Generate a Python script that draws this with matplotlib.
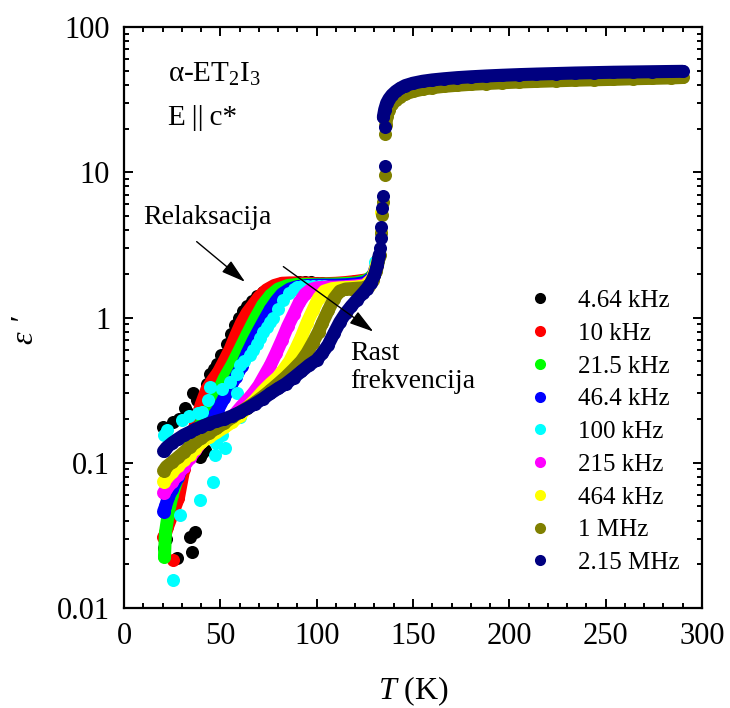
import numpy as np
import matplotlib
matplotlib.use("Agg")
import matplotlib.pyplot as plt
from matplotlib.ticker import MultipleLocator, LogLocator, FuncFormatter, NullFormatter
from matplotlib.lines import Line2D

plt.rcParams['font.family'] = ['Liberation Serif', 'DejaVu Serif']
plt.rcParams['mathtext.fontset'] = 'custom'
plt.rcParams['mathtext.rm'] = 'Liberation Serif'
plt.rcParams['mathtext.it'] = 'Liberation Serif:italic'

# frekvencije i boje
labels = ["4.64 kHz", "10 kHz", "21.5 kHz", "46.4 kHz", "100 kHz",
          "215 kHz", "464 kHz", "1 MHz", "2.15 MHz"]
colors = ["#000000", "#ff0000", "#00ff00", "#0000ff", "#00ffff",
          "#ff00ff", "#ffff00", "#808000", "#000080"]

# 4.64 kHz (sumovito, samo tocke)
T_black = [20.4, 21.0, 21.5, 22.0, 25.5, 27.5, 28.5, 31.7, 32.5, 34.2, 35.1, 36.0, 36.9,
           37.7, 39.4, 40.3, 42.0, 42.9, 44.6, 46.5, 48.1, 50.5, 53.3, 55.5, 57.6, 59.8,
           61.9, 64.0, 66.2, 68.9, 72.0, 75.8, 79.0, 82.0, 85.0, 88.0, 91.0, 94.0, 97.0,
           100.0, 103.0, 106.0, 109.0, 112.0, 115.0, 118.0, 121.0, 124.0, 127.0, 129.5, 131.5]
eps_black = [0.177, 0.026, 0.165, 0.030, 0.19, 0.022, 0.20, 0.237, 0.224, 0.031, 0.0244, 0.30, 0.0335,
             0.27, 0.11, 0.116, 0.122, 0.35, 0.41, 0.44, 0.48, 0.55, 0.66, 0.77, 0.89, 1.0,
             1.10, 1.2, 1.3, 1.41, 1.5, 1.58, 1.64, 1.68, 1.71, 1.73, 1.75, 1.76, 1.75,
             1.74, 1.73, 1.71, 1.70, 1.70, 1.71, 1.72, 1.74, 1.76, 1.8, 2.0, 2.5]

# 10 kHz
T_red = [21.0, 22.5, 28.2, 31.0, 34.0, 37.0, 40.0, 43.0, 46.0, 49.0, 52.0, 55.0, 58.0, 61.0,
         64.0, 67.0, 70.0, 74.0, 78.0, 82.0, 86.0, 90.0, 95.0, 100.0, 105.0, 110.0, 115.0,
         120.0, 124.0, 127.0, 130.0, 132.0]
eps_red = [0.031, 0.036, 0.057, 0.09, 0.13, 0.18, 0.25, 0.32, 0.37, 0.42, 0.5, 0.6, 0.75, 0.92,
           1.08, 1.22, 1.38, 1.55, 1.66, 1.72, 1.73, 1.73, 1.72, 1.71, 1.71, 1.72, 1.74,
           1.77, 1.8, 1.83, 2.0, 2.5]
T_red_pts = [20.4, 25.6]
eps_red_pts = [0.031, 0.0214]

# 21.5 kHz
T_green = [21.0, 21.5, 23.0, 25.0, 28.0, 32.0, 36.0, 40.0, 44.0, 48.0, 52.0, 56.0, 60.0, 64.0,
           68.0, 72.0, 76.0, 80.0, 85.0, 90.0, 100.0, 110.0, 120.0, 126.0, 130.0, 132.0]
eps_green = [0.0225, 0.033, 0.045, 0.06, 0.08, 0.11, 0.15, 0.185, 0.23, 0.29, 0.38, 0.47, 0.6, 0.77,
             0.98, 1.22, 1.42, 1.57, 1.66, 1.69, 1.69, 1.7, 1.73, 1.8, 2.0, 2.5]

# 46.4 kHz
T_blue = [20.5, 21.5, 23.0, 25.0, 28.0, 31.0, 34.0, 37.0, 40.0, 43.0, 46.0, 49.0, 52.0, 55.0,
          58.0, 61.0, 64.0, 67.0, 70.0, 73.0, 76.0, 79.0, 82.0, 86.0, 90.0, 95.0, 100.0,
          105.0, 110.0, 115.0, 120.0, 125.0, 129.0, 131.5]
eps_blue = [0.046, 0.05, 0.058, 0.066, 0.08, 0.097, 0.115, 0.135, 0.16, 0.18, 0.205, 0.235, 0.28, 0.33,
            0.39, 0.46, 0.57, 0.69, 0.82, 0.97, 1.14, 1.3, 1.45, 1.57, 1.63, 1.66, 1.67,
            1.67, 1.67, 1.68, 1.7, 1.74, 1.9, 2.4]

# 100 kHz (sumovito, samo tocke)
T_cyan = [20.5, 22.2, 25.6, 29.0, 30.0, 33.5, 38.4, 39.4, 40.3, 43.8, 44.6, 46.4, 47.2, 48.0,
          50.7, 50.7, 52.4, 55.0, 58.5, 58.5, 60.2, 60.2, 62.5, 65.4, 67.0, 69.0, 70.6, 72.3,
          74.0, 75.8, 77.5, 80.0, 82.7, 85.5, 88.0, 90.0, 92.2, 95.0, 98.3, 101.0, 104.0,
          107.0, 110.0, 113.0, 116.0, 119.0, 122.0, 125.0, 128.0, 130.5]
eps_cyan = [0.155, 0.168, 0.0156, 0.044, 0.197, 0.21, 0.22, 0.055, 0.224, 0.27, 0.33, 0.074, 0.113, 0.136,
            0.155, 0.32, 0.126, 0.36, 0.30, 0.41, 0.207, 0.47, 0.5, 0.55, 0.6, 0.66, 0.72, 0.79,
            0.86, 0.93, 1.0, 1.15, 1.32, 1.48, 1.57, 1.61, 1.64, 1.66, 1.66, 1.65, 1.64,
            1.63, 1.63, 1.63, 1.64, 1.65, 1.66, 1.68, 1.85, 2.4]

# 215 kHz
T_mag = [20.5, 22.0, 25.0, 28.0, 31.0, 34.0, 37.0, 40.0, 43.0, 46.0, 49.0, 52.0, 55.0, 58.0,
         61.0, 64.0, 67.0, 70.0, 73.0, 76.0, 79.0, 82.0, 85.0, 88.0, 91.0, 94.0, 97.0, 100.0,
         105.0, 110.0, 115.0, 120.0, 125.0, 129.0, 131.5]
eps_mag = [0.062, 0.066, 0.074, 0.083, 0.094, 0.107, 0.122, 0.138, 0.152, 0.163, 0.174, 0.186, 0.2, 0.22,
           0.245, 0.27, 0.3, 0.34, 0.4, 0.47, 0.57, 0.7, 0.87, 1.05, 1.27, 1.45, 1.56, 1.6,
           1.62, 1.62, 1.63, 1.65, 1.68, 1.85, 2.3]

# 464 kHz
T_yel = [20.5, 22.0, 25.0, 28.0, 31.0, 34.0, 37.0, 40.0, 44.0, 48.0, 52.0, 56.0, 60.0, 64.0,
         68.0, 72.0, 76.0, 80.0, 83.0, 86.0, 89.0, 92.0, 95.0, 98.0, 101.0, 104.0, 108.0,
         112.0, 116.0, 120.0, 125.0, 129.0, 131.5]
eps_yel = [0.074, 0.078, 0.086, 0.095, 0.104, 0.114, 0.125, 0.138, 0.15, 0.162, 0.175, 0.19, 0.21, 0.24,
           0.27, 0.31, 0.35, 0.39, 0.44, 0.5, 0.6, 0.73, 0.92, 1.12, 1.36, 1.52, 1.58,
           1.6, 1.61, 1.62, 1.65, 1.85, 2.4]
T_yel_pts = [133.2, 133.5]
eps_yel_pts = [3.9, 5.3]

# 1 MHz
T_oli = [20.5, 22.0, 25.0, 28.0, 31.0, 34.0, 37.0, 40.0, 44.0, 48.0, 52.0, 56.0, 60.0, 64.0,
         68.0, 72.0, 76.0, 80.0, 84.0, 88.0, 92.0, 95.0, 98.0, 101.0, 103.0, 106.0, 109.0,
         112.0, 115.0, 118.0, 121.0, 124.0, 127.0, 129.0, 131.0, 132.5]
eps_oli = [0.088, 0.094, 0.101, 0.109, 0.118, 0.128, 0.138, 0.148, 0.16, 0.173, 0.188, 0.205, 0.222, 0.24,
           0.26, 0.285, 0.315, 0.35, 0.39, 0.44, 0.5, 0.57, 0.67, 0.8, 0.92, 1.12, 1.35,
           1.52, 1.57, 1.58, 1.59, 1.6, 1.65, 1.8, 2.1, 2.6]
T_oli_pts = [133.0, 133.4, 133.9, 134.4, 135.5, 135.5]
eps_oli_pts = [2.7, 3.8, 5.1, 6.2, 9.6, 18.3]
T_oli_hi = [135.8, 136.6, 137.6, 139.0, 141.0, 143.5, 146.0, 150.0, 155.0, 160.0, 166.0, 173.0,
            180.0, 188.0, 196.0, 205.0, 214.0, 224.0, 234.0, 244.0, 254.0, 264.0, 274.0, 284.0, 290.0]
eps_oli_hi = [21.0, 24.5, 27.0, 29.5, 31.5, 33.2, 34.6, 36.0, 37.3, 38.2, 39.0, 39.7,
              40.3, 40.8, 41.3, 41.8, 42.2, 42.6, 43.0, 43.3, 43.6, 44.0, 44.3, 44.6, 44.9]

# 2.15 MHz
T_navy = [20.5, 22.0, 25.0, 28.0, 31.0, 34.0, 37.0, 40.0, 44.0, 48.0, 52.0, 56.0, 60.0, 64.0,
          68.0, 72.0, 76.0, 80.0, 84.0, 88.0, 92.0, 96.0, 100.0, 103.0, 106.0, 109.0, 112.0,
          115.0, 118.0, 121.0, 124.0, 126.0, 128.0, 130.0, 131.5, 132.5]
eps_navy = [0.12, 0.127, 0.137, 0.146, 0.155, 0.162, 0.17, 0.177, 0.186, 0.193, 0.2, 0.21, 0.222, 0.237,
            0.255, 0.275, 0.3, 0.325, 0.35, 0.385, 0.425, 0.47, 0.51, 0.57, 0.65, 0.78, 0.93,
            1.07, 1.2, 1.33, 1.47, 1.58, 1.72, 1.95, 2.3, 2.7]
T_navy_pts = [133.0, 133.4, 133.4, 133.9, 134.4, 135.5, 135.5]
eps_navy_pts = [3.0, 3.5, 4.2, 5.7, 6.9, 11.0, 20.5]
T_navy_hi = [134.6, 135.3, 136.3, 137.5, 139.0, 141.0, 143.3, 146.0, 150.0, 155.0, 160.0, 166.0,
             173.0, 180.0, 188.0, 196.0, 205.0, 214.0, 224.0, 234.0, 244.0, 254.0, 264.0,
             274.0, 284.0, 290.0]
eps_navy_hi = [24.0, 27.0, 29.9, 32.0, 34.0, 36.0, 37.8, 39.5, 41.0, 42.3, 43.2, 44.0,
               44.8, 45.4, 46.0, 46.5, 47.0, 47.4, 47.8, 48.2, 48.5, 48.8, 49.0, 49.2, 49.4, 49.5]

MS = 9.4  # velicina tocke (pt)

fig = plt.figure(figsize=(7.3, 7.08), dpi=100)
ax = fig.add_axes([0.1699, 0.1412, 0.7917, 0.8207])


def band(T, eps, c):
    # gusto mjerene tocke: debela linija + tocke
    ax.plot(T, eps, '-', color=c, lw=MS, solid_capstyle='round', solid_joinstyle='round', zorder=2)
    ax.plot(T, eps, 'o', color=c, ms=MS, mec='none', zorder=2)


def dots(T, eps, c):
    ax.plot(T, eps, 'o', color=c, ms=MS, mec='none', ls='none', zorder=2)


dots(T_black, eps_black, colors[0])
band(T_red, eps_red, colors[1])
dots(T_red_pts, eps_red_pts, colors[1])
band(T_green, eps_green, colors[2])
band(T_blue, eps_blue, colors[3])
dots(T_cyan, eps_cyan, colors[4])
band(T_mag, eps_mag, colors[5])
band(T_yel, eps_yel, colors[6])
dots(T_yel_pts, eps_yel_pts, colors[6])
band(T_oli, eps_oli, colors[7])
dots(T_oli_pts, eps_oli_pts, colors[7])
band(T_oli_hi, eps_oli_hi, colors[7])
band(T_navy, eps_navy, colors[8])
dots(T_navy_pts, eps_navy_pts, colors[8])
band(T_navy_hi, eps_navy_hi, colors[8])

ax.set_yscale('log')
ax.set_xlim(0, 300)
ax.set_ylim(0.01, 100)
ax.xaxis.set_major_locator(MultipleLocator(50))
ax.xaxis.set_minor_locator(MultipleLocator(10))
ax.yaxis.set_major_locator(LogLocator(base=10))
ax.yaxis.set_minor_locator(LogLocator(base=10, subs=np.arange(2, 10)))
ax.yaxis.set_minor_formatter(NullFormatter())
ax.yaxis.set_major_formatter(FuncFormatter(lambda v, p: "%g" % v))

ax.tick_params(which='both', direction='in', top=True, right=True, width=1.4,
               labelsize=22, pad=10)
ax.tick_params(which='major', length=6.5)
ax.tick_params(which='minor', length=3.5)
for s in ax.spines.values():
    s.set_linewidth(1.6)

ax.set_xlabel(r"$T$ (K)", fontsize=23, labelpad=17)
ax.set_ylabel("ε ′", fontsize=23, fontstyle='italic', labelpad=12, y=0.478)

# oznake
ax.text(22.8, 46.8, r"α-ET$_2$I$_3$", fontsize=21, va='center', ha='left')
ax.text(22.8, 23.6, "E\u2009||\u2009c*", fontsize=21, va='center', ha='left')
ax.text(10, 4.9, "Relaksacija", fontsize=20, va='center', ha='left')
arrow = dict(arrowstyle='-|>,head_length=0.75,head_width=0.22', color='black', lw=1.0,
             mutation_scale=20, shrinkA=0, shrinkB=0)
ax.annotate("", xy=(62.8, 1.76), xytext=(37.7, 3.33), arrowprops=arrow)
ax.annotate("", xy=(129.4, 0.80), xytext=(82.7, 2.24), arrowprops=arrow)
ax.text(117.3, 0.452, "Rast\nfrekvencija", fontsize=20, va='center', ha='left', linespacing=1.18)

handles = [Line2D([], [], ls='none', marker='o', color=c, mec='none', ms=8) for c in colors]
ax.legend(handles, labels, loc='upper left', bbox_to_anchor=(0.681, 0.565), frameon=False,
          fontsize=18, handlelength=1.0, handletextpad=1.0, labelspacing=0.41,
          borderpad=0.4, borderaxespad=0)

fig.savefig("out.png", dpi=100)
